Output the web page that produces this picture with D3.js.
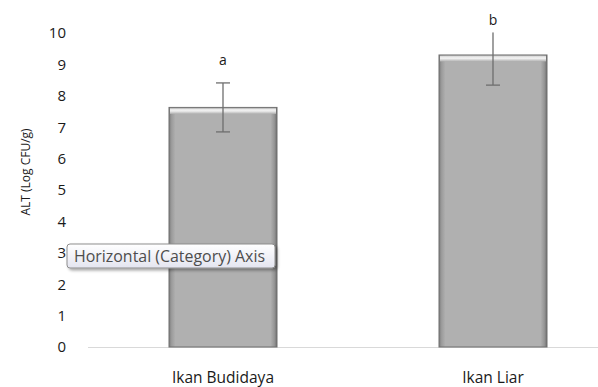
<!DOCTYPE html>
<html>
<head>
<meta charset="utf-8">
<script src="https://cdn.jsdelivr.net/npm/d3@7"></script>
<style>
  html, body { margin: 0; padding: 0; background: #fff; }
  svg { display: block; font-family: "Open Sans", "Liberation Sans", sans-serif; }
</style>
</head>
<body>
<svg id="chart" width="598" height="387"></svg>
<script>
// Mean ALT counts per fish source, with standard deviation and significance letters
const categories = ["Ikan Budidaya", "Ikan Liar"];
const means = [7.63, 9.30];
const errors = [0.78, 0.96];
const letters = ["a", "b"];
const letterLevels = [9.15, 10.4];
const yTicks = [0, 1, 2, 3, 4, 5, 6, 7, 8, 9, 10];

const svg = d3.select("#chart");

const x = d3.scaleBand()
  .domain(categories)
  .range([88, 628])
  .paddingInner(0.6)
  .paddingOuter(0.3);

const y = d3.scaleLinear().domain([0, 10]).range([347, 33]);

// bar shading: bevelled grey
const defs = svg.append("defs");
const hg = defs.append("linearGradient").attr("id", "barH").attr("x1", 0).attr("x2", 1).attr("y1", 0).attr("y2", 0);
[[0, "#7e7e7e"], [0.025, "#9c9c9c"], [0.06, "#b0b0b0"], [0.94, "#b0b0b0"], [0.975, "#969696"], [1, "#6f6f6f"]]
  .forEach(([o, c]) => hg.append("stop").attr("offset", o).attr("stop-color", c));
const tg = defs.append("linearGradient").attr("id", "barTop").attr("x1", 0).attr("x2", 0).attr("y1", 0).attr("y2", 1);
[[0, "#a0a0a0"], [0.2, "#e8e8e8"], [0.5, "#f0f0f0"], [1, "#b0b0b0"]]
  .forEach(([o, c]) => tg.append("stop").attr("offset", o).attr("stop-color", c));
const tipG = defs.append("linearGradient").attr("id", "tipBg").attr("x1", 0).attr("x2", 0).attr("y1", 0).attr("y2", 1);
[[0, "#ffffff"], [1, "#e4e5f0"]]
  .forEach(([o, c]) => tipG.append("stop").attr("offset", o).attr("stop-color", c));
const shadow = defs.append("filter").attr("id", "shadow").attr("x", "-10%").attr("y", "-10%").attr("width", "130%").attr("height", "150%");
shadow.append("feDropShadow").attr("dx", 2).attr("dy", 2).attr("stdDeviation", 1.5).attr("flood-color", "#000").attr("flood-opacity", 0.35);

// x axis baseline
svg.append("line")
  .attr("x1", 88).attr("x2", 598)
  .attr("y1", y(0) + 0.5).attr("y2", y(0) + 0.5)
  .attr("stroke", "#d9d9d9").attr("stroke-width", 1);

// y axis tick labels (no axis line)
const yAxis = d3.axisLeft(y).tickValues(yTicks).tickSize(0).tickPadding(0).tickFormat(d3.format("d"));
const yg = svg.append("g").attr("transform", "translate(66,0)").call(yAxis);
yg.select(".domain").remove();
yg.selectAll("text").attr("font-size", 15).attr("fill", "#1a1a1a").attr("font-family", "'Open Sans', sans-serif");

// bars
const bars = svg.append("g").selectAll("g").data(categories).join("g");
bars.append("rect")
  .attr("x", d => x(d))
  .attr("y", (d, i) => y(means[i]))
  .attr("width", x.bandwidth())
  .attr("height", (d, i) => y(0) - y(means[i]))
  .attr("fill", "url(#barH)")
  .attr("stroke", "#6f6f6f").attr("stroke-width", 1);
bars.append("rect")
  .attr("x", d => x(d) + 1)
  .attr("y", (d, i) => y(means[i]) + 0.5)
  .attr("width", x.bandwidth() - 2)
  .attr("height", 6)
  .attr("fill", "url(#barTop)");

// significance letters on white boxes (drawn before the error bars' caps may peek out)
const eb = svg.append("g").attr("stroke", "#6e6e6e").attr("stroke-width", 1.3);
categories.forEach((c, i) => {
  const cx = x(c) + x.bandwidth() / 2;
  eb.append("line").attr("x1", cx).attr("x2", cx).attr("y1", y(means[i] + errors[i])).attr("y2", y(means[i] - errors[i]));
  eb.append("line").attr("x1", cx - 7).attr("x2", cx + 7).attr("y1", y(means[i] + errors[i])).attr("y2", y(means[i] + errors[i]));
  eb.append("line").attr("x1", cx - 7).attr("x2", cx + 7).attr("y1", y(means[i] - errors[i])).attr("y2", y(means[i] - errors[i]));
});

categories.forEach((c, i) => {
  const cx = x(c) + x.bandwidth() / 2;
  const ly = y(letterLevels[i]);
  svg.append("rect").attr("x", cx - 13).attr("y", ly - 14).attr("width", 26).attr("height", 26).attr("fill", "#fff");
  svg.append("text").attr("x", cx).attr("y", ly + 5)
    .attr("text-anchor", "middle").attr("font-size", 14).attr("fill", "#1a1a1a")
    .text(letters[i]);
});

// category labels
svg.append("g").selectAll("text").data(categories).join("text")
  .attr("x", d => x(d) + x.bandwidth() / 2)
  .attr("y", 383)
  .attr("text-anchor", "middle")
  .attr("font-size", 15.5).attr("fill", "#1a1a1a")
  .text(d => d);

// y axis title
svg.append("text")
  .attr("transform", "translate(30,172) rotate(-90)")
  .attr("text-anchor", "middle")
  .attr("font-size", 12).attr("fill", "#1a1a1a")
  .text("ALT (Log CFU/g)");

// hover tooltip for the category axis
const tip = svg.append("g").attr("transform", "translate(67,244)");
tip.append("rect").attr("width", 208).attr("height", 24).attr("rx", 3)
  .attr("fill", "url(#tipBg)").attr("stroke", "#8d8d8d").attr("stroke-width", 1)
  .attr("filter", "url(#shadow)");
tip.append("text").attr("x", 7).attr("y", 17.5)
  .attr("font-size", 15.5).attr("fill", "#4d4d4d")
  .attr("textLength", 191).attr("lengthAdjust", "spacingAndGlyphs")
  .text("Horizontal (Category) Axis");
</script>
</body>
</html>
